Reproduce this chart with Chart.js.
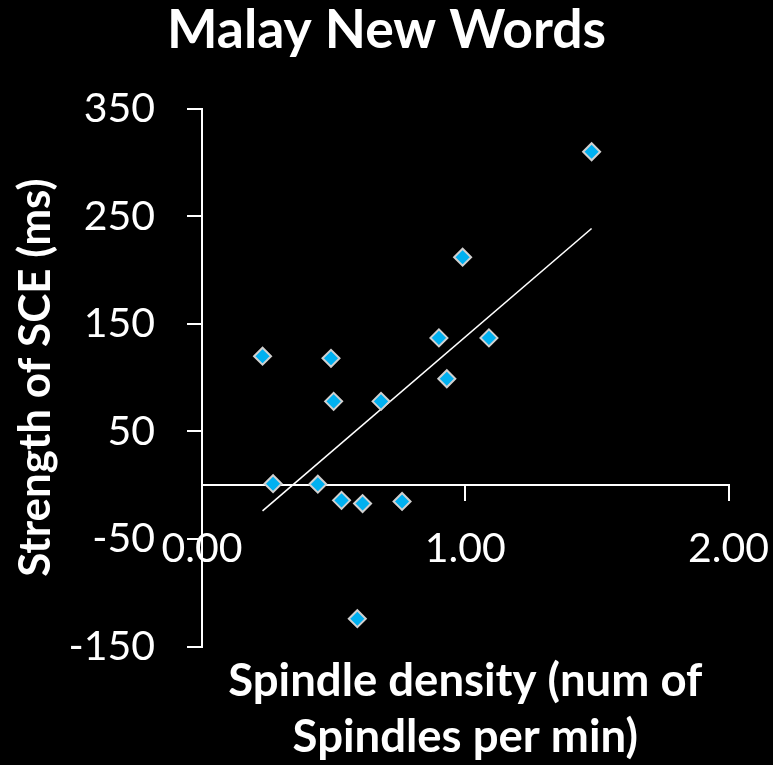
<!DOCTYPE html>
<html><head><meta charset="utf-8">
<script src="https://cdn.jsdelivr.net/npm/chart.js@4/dist/chart.umd.min.js"></script>
<style>html,body{margin:0;padding:0;background:#000;overflow:hidden}canvas{display:block}</style>
</head><body>
<canvas id="c" width="773" height="765"></canvas>
<script>
const chartTitle = 'Malay New Words';
const xAxisTitle = ['Spindle density (num of', 'Spindles per min)'];
const yAxisTitle = 'Strength of SCE (ms)';
const spindleDensity = [0.23, 0.27, 0.44, 0.49, 0.50, 0.53, 0.59, 0.61, 0.68, 0.76, 0.90, 0.93, 0.99, 1.09, 1.48];
const sceStrength    = [120,  1.5,  1,    118,  78,   -14,  -124, -17,  78,   -15,  137,  99,   212,  137,  310];
const xTickValues = [0, 1, 2];
const xTickLabels = ['0.00', '1.00', '2.00'];
const yTickValues = [-150, -50, 50, 150, 250, 350];
const yTickLabels = ['-150', '-50', '50', '150', '250', '350'];

const points = spindleDensity.map((x, i) => ({x: x, y: sceStrength[i]}));
// least-squares linear trend line over the data range
const n = points.length;
const mx = spindleDensity.reduce((a, b) => a + b, 0) / n;
const my = sceStrength.reduce((a, b) => a + b, 0) / n;
let sxy = 0, sxx = 0;
points.forEach(p => { sxy += (p.x - mx) * (p.y - my); sxx += (p.x - mx) * (p.x - mx); });
const slope = sxy / sxx, intercept = my - slope * mx;
const xMin = Math.min(...spindleDensity), xMax = Math.max(...spindleDensity);
const trend = [{x: xMin, y: intercept + slope * xMin}, {x: xMax, y: intercept + slope * xMax}];

const bg = {id: 'bg', beforeDraw(c) { const ctx = c.ctx; ctx.save(); ctx.fillStyle = '#000'; ctx.fillRect(0, 0, c.width, c.height); ctx.restore(); }};

new Chart(document.getElementById('c'), {
  type: 'scatter',
  data: {
    datasets: [
      {type: 'line', data: trend, borderColor: '#ffffff', borderWidth: 1.6, pointRadius: 0, fill: false, order: 2},
      {data: points, pointStyle: 'rectRot', pointRadius: 8.5, pointBackgroundColor: '#00B0F0', pointBorderColor: '#D0D0D0', pointBorderWidth: 2, order: 1}
    ]
  },
  options: {
    responsive: false,
    animation: false,
    layout: {padding: 0},
    plugins: {
      legend: {display: false},
      tooltip: {enabled: false},
      title: {display: true, text: chartTitle, color: '#ffffff', font: {family: 'Lato', size: 53.5, weight: 'bold', lineHeight: 1}, padding: {top: 3.5, bottom: 51.7}},
      subtitle: {display: true, position: 'bottom', fullSize: false, text: xAxisTitle, color: '#ffffff', font: {family: 'Lato', size: 45.5, weight: 'bold', lineHeight: 1.242}, padding: {top: 6, bottom: -0.7}}
    },
    scales: {
      x: {
        type: 'linear', position: {y: 0}, min: 0, max: 2,
        afterBuildTicks: s => { s.ticks = xTickValues.map(v => ({value: v})); },
        afterFit: s => { s.paddingLeft = 0; s.paddingRight = 44.5; },
        ticks: {color: '#ffffff', font: {family: 'Lato', size: 41, lineHeight: 1.2}, padding: 24, maxRotation: 0, autoSkip: false,
          callback: (v) => xTickLabels[xTickValues.indexOf(v)]},
        grid: {display: true, drawOnChartArea: false, drawTicks: true, tickLength: 15, color: '#ffffff', lineWidth: 2},
        border: {display: true, color: '#ffffff', width: 2}
      },
      y: {
        type: 'linear', position: 'left', min: -150, max: 350,
        afterBuildTicks: s => { s.ticks = yTickValues.map(v => ({value: v})); },
        afterFit: s => { s.width = 202; },
        ticks: {color: '#ffffff', font: {family: 'Lato', size: 41, lineHeight: 1.2}, padding: 32, autoSkip: false,
          callback: (v) => yTickLabels[yTickValues.indexOf(v)]},
        grid: {display: true, drawOnChartArea: false, drawTicks: true, tickLength: 15, color: '#ffffff', lineWidth: 2},
        border: {display: true, color: '#ffffff', width: 2},
        title: {display: true, text: yAxisTitle, color: '#ffffff', font: {family: 'Lato', size: 44, weight: 'bold', lineHeight: 1.2}, padding: {top: 9, bottom: 0}}
      }
    }
  },
  plugins: [bg]
});
</script>
</body></html>
